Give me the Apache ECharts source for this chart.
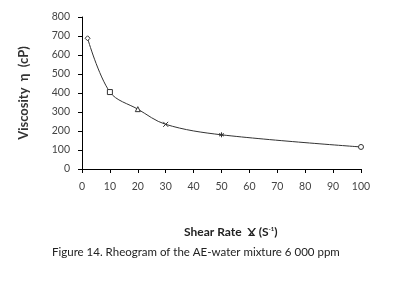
<!DOCTYPE html>
<html>
<head>
<meta charset="utf-8">
<script src="https://cdn.jsdelivr.net/npm/echarts@6/dist/echarts.min.js"></script>
<style>
  html, body { margin: 0; padding: 0; background: #fff; }
  #chart { width: 394px; height: 281px; }
</style>
</head>
<body>
<div id="chart"></div>
<script>
// shear rate (1/s) and viscosity (cP)
var shearRate = [2, 10, 20, 30, 50, 100];
var viscosity = [688, 405, 315, 235, 180, 116];
var markers = [
  "diamond",
  "rect",
  "triangle",
  "path://M0,0L10,10M10,0L0,10",
  "path://M5,0L5,10M0,2.5L10,7.5M0,7.5L10,2.5",
  "circle"
];

var chart = echarts.init(document.getElementById("chart"));

var points = shearRate.map(function (x, i) {
  return {
    value: [x, viscosity[i]],
    symbol: markers[i]
  };
});

var option = {
  animation: false,
  textStyle: { fontFamily: "Lato" },
  grid: { left: 82, top: 17, right: 33, bottom: 112 },
  xAxis: {
    type: "value",
    min: 0,
    max: 100,
    interval: 10,
    axisLine: { lineStyle: { color: "#000", width: 1 } },
    axisTick: { show: true, length: 4, lineStyle: { color: "#000" } },
    axisLabel: { color: "#444", fontSize: 10.5, margin: 12 },
    splitLine: { show: false }
  },
  yAxis: {
    type: "value",
    min: 0,
    max: 800,
    interval: 100,
    name: "Viscosity  η  (cP)",
    nameLocation: "middle",
    nameGap: 52,
    nameTextStyle: { color: "#333", fontSize: 13, fontWeight: "bold" },
    axisLine: { show: true, lineStyle: { color: "#000", width: 1 } },
    axisTick: { show: true, length: 4, lineStyle: { color: "#000" } },
    axisLabel: { color: "#444", fontSize: 10.5, margin: 12 },
    splitLine: { show: false }
  },
  graphic: [
    {
      type: "text",
      left: 184,
      top: 226,
      style: {
        text: "{a|Shear Rate  Ɣ (S}{s|-1}{a|)}",
        rich: {
          a: { fontFamily: "Lato", fontSize: 12, fontWeight: "bold", fill: "#222" },
          s: { fontFamily: "Lato", fontSize: 6, fontWeight: "bold", fill: "#222", verticalAlign: "top", padding: [0, 0, 6, 0] }
        }
      }
    },
    {
      type: "text",
      left: 52,
      top: 246,
      style: {
        text: "Figure 14. Rheogram of the AE-water mixture 6 000 ppm",
        fontFamily: "Lato",
        fontSize: 11.5,
        fill: "#222"
      }
    }
  ],
  series: [
    {
      type: "line",
      smooth: 0.35,
      data: points,
      symbolSize: 5,
      showAllSymbol: true,
      lineStyle: { color: "#333", width: 1 },
      itemStyle: { color: "#fff", borderColor: "#333", borderWidth: 1 }
    }
  ]
};

chart.setOption(option);
</script>
</body>
</html>
